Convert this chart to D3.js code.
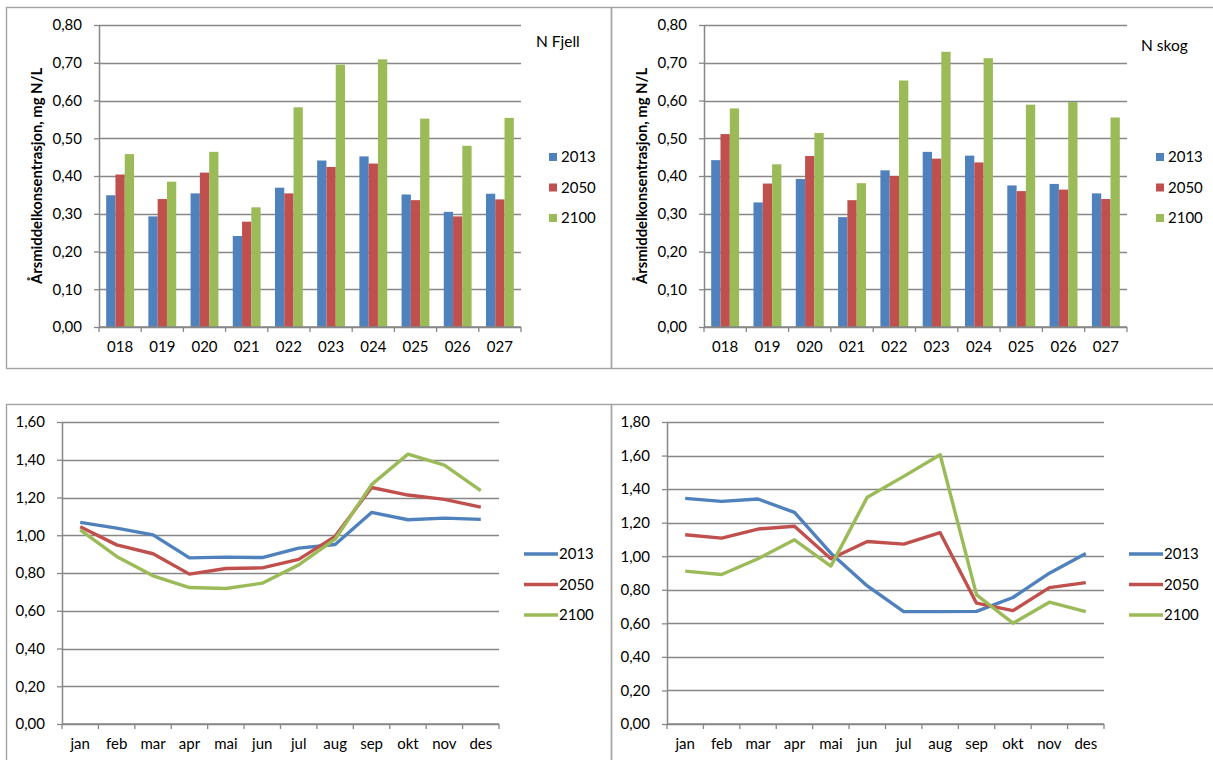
<!DOCTYPE html>
<html>
<head>
<meta charset="utf-8">
<script src="https://cdn.jsdelivr.net/npm/d3@7"></script>
<style>
  body { margin: 0; background: #fff; }
  text { font-family: Lato, "Open Sans", sans-serif; fill: #000; }
</style>
</head>
<body>
<svg id="chart" width="1213" height="760"></svg>
<script>
// categories
const stations = ["018", "019", "020", "021", "022", "023", "024", "025", "026", "027"];
const months = ["jan", "feb", "mar", "apr", "mai", "jun", "jul", "aug", "sep", "okt", "nov", "des"];
const series = ["2013", "2050", "2100"];

// annual mean, N Fjell
const fjell2013 = [0.349, 0.293, 0.354, 0.241, 0.369, 0.441, 0.452, 0.351, 0.305, 0.353];
const fjell2050 = [0.404, 0.339, 0.409, 0.279, 0.354, 0.424, 0.433, 0.336, 0.293, 0.338];
const fjell2100 = [0.458, 0.385, 0.464, 0.317, 0.582, 0.695, 0.709, 0.552, 0.480, 0.554];

// annual mean, N skog
const skog2013 = [0.442, 0.330, 0.392, 0.291, 0.415, 0.464, 0.454, 0.375, 0.379, 0.354];
const skog2050 = [0.511, 0.380, 0.453, 0.336, 0.400, 0.446, 0.436, 0.360, 0.364, 0.339];
const skog2100 = [0.579, 0.431, 0.514, 0.381, 0.653, 0.729, 0.712, 0.589, 0.596, 0.555];

// monthly, left line chart
const monthA2013 = [1.068, 1.038, 1.002, 0.880, 0.884, 0.882, 0.932, 0.951, 1.121, 1.082, 1.091, 1.084];
const monthA2050 = [1.045, 0.949, 0.902, 0.794, 0.824, 0.827, 0.872, 0.994, 1.253, 1.213, 1.190, 1.149];
const monthA2100 = [1.029, 0.888, 0.785, 0.723, 0.718, 0.746, 0.843, 0.979, 1.268, 1.430, 1.372, 1.236];

// monthly, right line chart
const monthB2013 = [1.345, 1.327, 1.341, 1.261, 1.018, 0.823, 0.670, 0.670, 0.671, 0.754, 0.899, 1.016];
const monthB2050 = [1.128, 1.108, 1.162, 1.179, 0.985, 1.088, 1.072, 1.140, 0.720, 0.676, 0.813, 0.843];
const monthB2100 = [0.911, 0.891, 0.985, 1.098, 0.941, 1.352, 1.476, 1.605, 0.770, 0.601, 0.726, 0.670];

// tick values
const barTicks = [0, 0.1, 0.2, 0.3, 0.4, 0.5, 0.6, 0.7, 0.8];
const lineTicksA = [0, 0.2, 0.4, 0.6, 0.8, 1.0, 1.2, 1.4, 1.6];
const lineTicksB = [0, 0.2, 0.4, 0.6, 0.8, 1.0, 1.2, 1.4, 1.6, 1.8];

const colors = ["#4F81BD", "#C0504D", "#9BBB59"];
const gridColor = "#878787";
const borderColor = "#a3a3a3";
const fmt = d => d3.format(".2f")(d).replace(".", ",");

const svg = d3.select("#chart");

// panel borders
function drawBox(x, y, w, h) {
    svg.append("rect")
        .attr("x", x).attr("y", y)
        .attr("width", w).attr("height", h)
        .attr("fill", "none")
        .attr("stroke", borderColor)
        .attr("stroke-width", 1.4);
}
drawBox(6.5, 7.5, 605, 361);
drawBox(611.5, 7.5, 610, 361);
drawBox(6.5, 404.5, 605, 370);
drawBox(611.5, 404.5, 610, 370);

function yAxis(g, y, left, right, ticks) {
    // gridlines
    g.append("g")
        .selectAll("line")
        .data(ticks)
        .enter().append("line")
        .attr("x1", left).attr("x2", right)
        .attr("y1", d => Math.round(y(d)) + 0.5)
        .attr("y2", d => Math.round(y(d)) + 0.5)
        .attr("stroke", gridColor)
        .attr("stroke-width", 1.3);

    const ax = g.append("g")
        .attr("transform", `translate(${left},0)`)
        .call(d3.axisLeft(y).tickValues(ticks).tickSize(5).tickSizeOuter(0).tickPadding(12).tickFormat(fmt));
    ax.selectAll("path").attr("stroke", gridColor).attr("stroke-width", 1.5);
    ax.selectAll("line").attr("stroke", gridColor).attr("stroke-width", 1.3);
    ax.selectAll("text").style("font-size", "15px").style("font-family", "Lato");
}

function xAxis(g, x, bottom, pad) {
    const bounds = x.domain().map(d => x(d)).concat([x.range()[1]]);
    g.append("line")
        .attr("x1", x.range()[0]).attr("x2", x.range()[1])
        .attr("y1", bottom).attr("y2", bottom)
        .attr("stroke", gridColor).attr("stroke-width", 1.5);
    g.append("g")
        .selectAll("line")
        .data(bounds)
        .enter().append("line")
        .attr("x1", d => d).attr("x2", d => d)
        .attr("y1", bottom).attr("y2", bottom + 5)
        .attr("stroke", gridColor).attr("stroke-width", 1.3);
    const ax = g.append("g")
        .attr("transform", `translate(0,${bottom})`)
        .call(d3.axisBottom(x).tickSize(0).tickPadding(pad));
    ax.select(".domain").remove();
    ax.selectAll("text").style("font-size", "15px").style("font-family", "Lato");
}

function drawBars(cfg) {
    const g = svg.append("g");
    const y = d3.scaleLinear().domain([0, 0.8]).range([cfg.bottom, cfg.top]);
    const x0 = d3.scaleBand().domain(stations).range([cfg.left, cfg.right]);
    const gap = x0.bandwidth() * 0.34;
    const x1 = d3.scaleBand().domain(series).range([gap / 2, x0.bandwidth() - gap / 2]);

    yAxis(g, y, cfg.left, cfg.right, barTicks);

    series.forEach((s, i) => {
        g.append("g")
            .selectAll("rect")
            .data(cfg.values[i])
            .enter().append("rect")
            .attr("x", (d, j) => x0(stations[j]) + x1(s))
            .attr("y", d => y(d))
            .attr("width", x1.bandwidth())
            .attr("height", d => cfg.bottom - y(d))
            .attr("fill", colors[i]);
    });

    xAxis(g, x0, cfg.bottom, 14);

    g.append("text")
        .attr("transform", `translate(${cfg.titleX},${(cfg.top + cfg.bottom) / 2}) rotate(-90)`)
        .attr("text-anchor", "middle")
        .style("font-size", "14.8px")
        .style("font-weight", "bold")
        .text("Årsmiddelkonsentrasjon, mg N/L");

    g.append("text")
        .attr("x", cfg.nameX).attr("y", cfg.nameY)
        .style("font-size", "15.5px")
        .text(cfg.name);

    const leg = g.append("g").selectAll("g").data(series).enter().append("g")
        .attr("transform", (d, i) => `translate(${cfg.legendX},${cfg.legendY + i * 30.5})`);
    leg.append("rect").attr("x", 0).attr("y", -4).attr("width", 8).attr("height", 8)
        .attr("fill", (d, i) => colors[i]);
    leg.append("text").attr("x", 12).attr("dy", "0.36em").style("font-size", "15px").text(d => d);
}

function drawLines(cfg) {
    const g = svg.append("g");
    const y = d3.scaleLinear().domain([0, cfg.max]).range([cfg.bottom, cfg.top]);
    const x = d3.scaleBand().domain(months).range([cfg.left, cfg.right]);

    yAxis(g, y, cfg.left, cfg.right, cfg.ticks);
    xAxis(g, x, cfg.bottom, 14);

    const line = d3.line()
        .x((d, i) => x(months[i]) + x.bandwidth() / 2)
        .y(d => y(d));

    series.forEach((s, i) => {
        g.append("path")
            .datum(cfg.values[i])
            .attr("d", line)
            .attr("fill", "none")
            .attr("stroke", colors[i])
            .attr("stroke-width", 3.4)
            .attr("stroke-linejoin", "round");
    });

    const leg = g.append("g").selectAll("g").data(series).enter().append("g")
        .attr("transform", (d, i) => `translate(${cfg.legendX},${cfg.legendY + i * 30.5})`);
    leg.append("line").attr("x1", 0).attr("x2", 34).attr("y1", 0).attr("y2", 0)
        .attr("stroke", (d, i) => colors[i]).attr("stroke-width", 3.6);
    leg.append("text").attr("x", 35).attr("dy", "0.36em").style("font-size", "15px").text(d => d);
}

drawBars({
    left: 99, right: 521, top: 25, bottom: 327,
    values: [fjell2013, fjell2050, fjell2100],
    name: "N Fjell", nameX: 536, nameY: 47,
    titleX: 42, legendX: 549, legendY: 157
});

drawBars({
    left: 704, right: 1127, top: 25, bottom: 327,
    values: [skog2013, skog2050, skog2100],
    name: "N skog", nameX: 1141, nameY: 51,
    titleX: 647, legendX: 1156, legendY: 157
});

drawLines({
    left: 62, right: 499, top: 422, bottom: 724, max: 1.6, ticks: lineTicksA,
    values: [monthA2013, monthA2050, monthA2100],
    legendX: 524, legendY: 554
});

drawLines({
    left: 667, right: 1104, top: 422, bottom: 724, max: 1.8, ticks: lineTicksB,
    values: [monthB2013, monthB2050, monthB2100],
    legendX: 1129, legendY: 554
});
</script>
</body>
</html>
